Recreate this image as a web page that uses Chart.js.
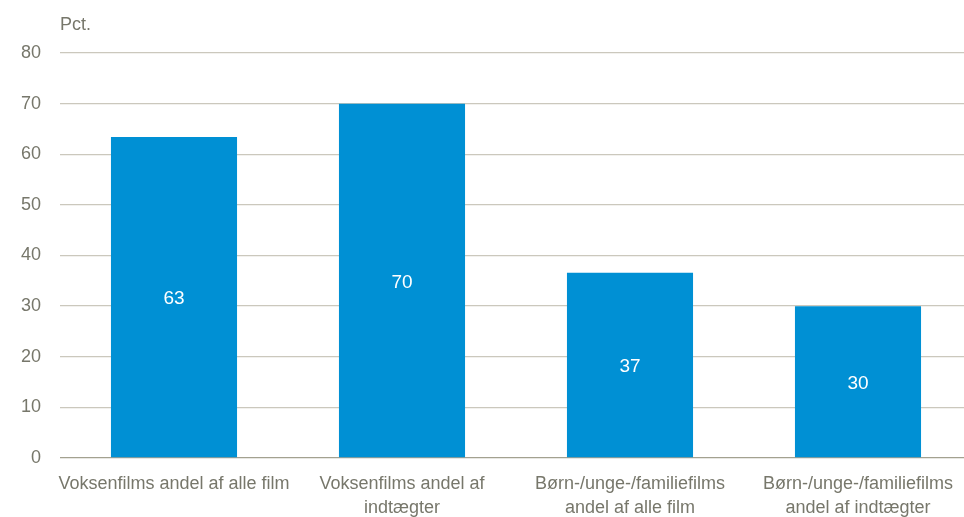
<!DOCTYPE html>
<html>
<head>
<meta charset="utf-8">
<script src="https://cdn.jsdelivr.net/npm/chart.js@4/dist/chart.umd.min.js"></script>
<style>
  html, body { margin: 0; padding: 0; background: #fff; overflow: hidden; }
  #wrap { position: absolute; left: 0; top: 0; width: 972px; height: 540px; }
</style>
</head>
<body>
<div id="wrap"><canvas id="cv" width="972" height="540"></canvas></div>
<script>
var categories = [
  'Voksenfilms andel af alle film',
  ['Voksenfilms andel af', 'indtægter'],
  ['Børn-/unge-/familiefilms', 'andel af alle film'],
  ['Børn-/unge-/familiefilms', 'andel af indtægter']
];
var shares = [63.4, 70, 36.6, 30];
var yTicks = [0, 10, 20, 30, 40, 50, 60, 70, 80];

var fontFam = '"Liberation Sans", Arial, sans-serif';
var txtColor = '#77776b';

// value labels in the middle of each bar + "Pct." unit text
var barLabels = {
  id: 'barLabels',
  afterDatasetsDraw: function (chart) {
    var ctx = chart.ctx;
    var meta = chart.getDatasetMeta(0);
    ctx.save();
    ctx.font = '19px ' + fontFam;
    ctx.fillStyle = '#ffffff';
    ctx.textAlign = 'center';
    ctx.textBaseline = 'middle';
    meta.data.forEach(function (bar, i) {
      ctx.fillText(Math.round(shares[i]), bar.x, (bar.y + bar.base) / 2 + 2);
    });
    ctx.fillStyle = txtColor;
    ctx.font = '18px ' + fontFam;
    ctx.textAlign = 'left';
    ctx.fillText('Pct.', chart.chartArea.left, 25);
    ctx.restore();
  }
};

new Chart(document.getElementById('cv'), {
  type: 'bar',
  data: {
    labels: categories,
    datasets: [{
      data: shares,
      backgroundColor: '#0090d4',
      borderWidth: 0,
      categoryPercentage: 1,
      barPercentage: 0.553
    }]
  },
  options: {
    responsive: false,
    animation: false,
    layout: { padding: { top: 53, right: 0, left: 0, bottom: 0 } },
    plugins: { legend: { display: false }, tooltip: { enabled: false } },
    scales: {
      x: {
        grid: { display: false },
        border: { display: false },
        ticks: {
          color: txtColor,
          font: { family: fontFam, size: 18, lineHeight: 1.28 },
          padding: 7,
          maxRotation: 0,
          autoSkip: false
        },
        afterFit: function (s) { s.height = 82; }
      },
      y: {
        min: 0,
        max: 80,
        afterBuildTicks: function (s) { s.ticks = yTicks.map(function (v) { return { value: v }; }); },
        border: { display: false },
        grid: {
          color: function (c) { return c.tick && c.tick.value === 0 ? '#a3a190' : '#cbc8bd'; },
          lineWidth: 1.3,
          drawTicks: false
        },
        ticks: {
          color: txtColor,
          font: { family: fontFam, size: 18 },
          padding: 19
        },
        afterFit: function (s) { s.width = 60; }
      }
    }
  },
  plugins: [barLabels]
});
</script>
</body>
</html>
